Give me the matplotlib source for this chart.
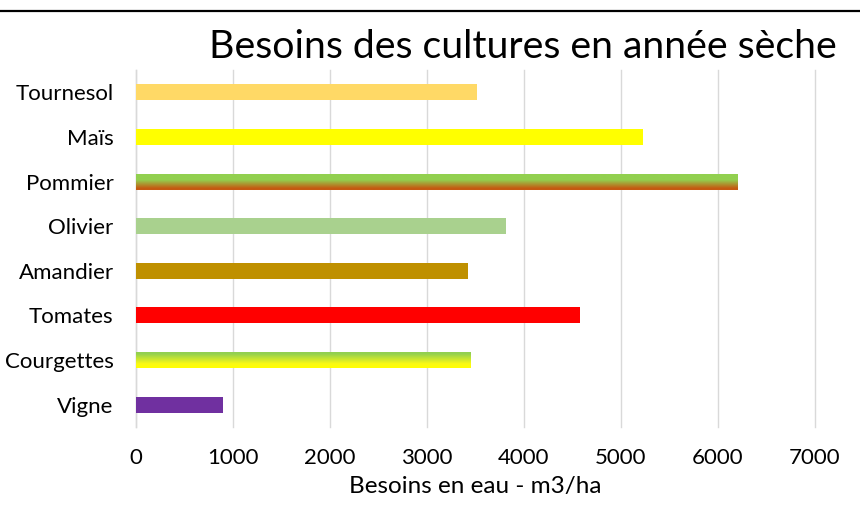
import matplotlib
matplotlib.use('Agg')
import matplotlib.pyplot as plt
from matplotlib.colors import LinearSegmentedColormap
from matplotlib.lines import Line2D
import numpy as np

plt.rcParams['font.family'] = ['Lato', 'DejaVu Sans']

# Besoins en eau par culture (m3/ha), du haut vers le bas
cultures = ['Tournesol', 'Maïs', 'Pommier', 'Olivier', 'Amandier', 'Tomates', 'Courgettes', 'Vigne']
besoins = [3520, 5230, 6200, 3810, 3420, 4580, 3450, 900]
couleurs = ['#FFD966', '#FFFF00', None, '#A9D18E', '#BF9000', '#FF0000', None, '#7030A0']
# barres en degrade : couleur du haut -> couleur du bas
degrades = {
    'Pommier': [(0.0, '#92D050'), (0.4, '#92D050'), (0.9, '#C55A11'), (1.0, '#C55A11')],
    'Courgettes': [(0.0, '#92D050'), (0.15, '#92D050'), (0.75, '#FAFA14'), (1.0, '#FFFF00')],
}

fig = plt.figure(figsize=(8.6, 5.16), dpi=100)
ax = fig.add_axes([0.1581, 0.1725, 0.7895, 0.6919])

y = np.arange(len(cultures))
bars = ax.barh(y, besoins, height=0.36, color=[c if c else 'none' for c in couleurs], zorder=3)

# degrades, dessines dans le rectangle de chaque barre
grad = np.linspace(0, 1, 256).reshape(-1, 1)
for bar, nom in zip(bars, cultures):
    if nom in degrades:
        cmap = LinearSegmentedColormap.from_list(nom, degrades[nom])
        x0, y0 = bar.get_x(), bar.get_y()
        w, h = bar.get_width(), bar.get_height()
        im = ax.imshow(grad, cmap=cmap, aspect='auto', origin='upper',
                       extent=(x0, x0 + w, y0 + h, y0), zorder=3)
        im.set_clip_path(bar)

ax.set_xlim(0, 7000)
ax.set_ylim(len(cultures) - 0.5, -0.5)
ax.set_yticks(y)
ax.set_yticklabels(cultures)
ax.set_xticks(np.arange(0, 8000, 1000))

ax.grid(axis='x', color='#D9D9D9', linewidth=1.0, zorder=0)
for gl in ax.get_xgridlines():
    gl.set_clip_on(False)
for s in ['top', 'right', 'bottom']:
    ax.spines[s].set_visible(False)
ax.spines['left'].set_color('#D9D9D9')
ax.spines['left'].set_linewidth(1.0)
ax.tick_params(length=0, labelsize=16)
ax.tick_params(axis='x', pad=15)
ax.tick_params(axis='y', pad=16)

ax.set_xlabel('Besoins en eau - m3/ha', fontsize=17.5, labelpad=6)

fig.text(0.608, 1 - 47 / 516, 'Besoins des cultures en année sèche',
         ha='center', va='center', fontsize=28.3)

# bordure haute
fig.add_artist(Line2D([0, 1], [1 - 11 / 516] * 2, color='black', linewidth=1.6,
                      transform=fig.transFigure))

fig.savefig('out.png', dpi=100)
